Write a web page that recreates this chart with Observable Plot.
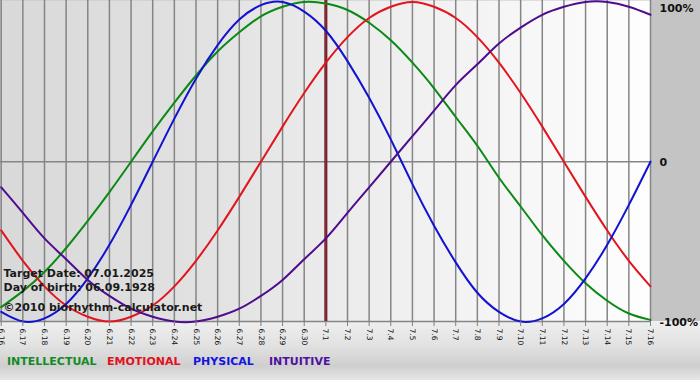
<!DOCTYPE html>
<html>
<head>
<meta charset="utf-8">
<script src="https://cdn.jsdelivr.net/npm/d3@7"></script>
<script src="https://cdn.jsdelivr.net/npm/@observablehq/plot@0.6"></script>
<style>
  html, body { margin: 0; padding: 0; }
  #wrap {
    position: relative; width: 700px; height: 380px; overflow: hidden;
    background:
      linear-gradient(#c4c4c4, #c4c4c4) top left / 700px 321px no-repeat,
      linear-gradient(to bottom, #efefef 0px, #efefef 321px, #e2e2e2 345px, #cfcfcf 366px, #e6e6e6 380px);
    font-family: "DejaVu Sans", Verdana, sans-serif;
  }
  #legend { position: absolute; top: 356px; left: 0; width: 700px; height: 14px; line-height: 12px; font-size: 11px; font-weight: bold; }
  #legend span { position: absolute; top: 0; white-space: nowrap; }
</style>
</head>
<body>
<div id="wrap"><div id="chart"></div><div id="legend"></div></div>
<script>
const dayLabels = ["6.16","6.17","6.18","6.19","6.20","6.21","6.22","6.23","6.24","6.25","6.26","6.27","6.28","6.29","6.30",
  "7.1","7.2","7.3","7.4","7.5","7.6","7.7","7.8","7.9","7.10","7.11","7.12","7.13","7.14","7.15","7.16"];
const intellectual = [-0.91,-0.81,-0.69,-0.54,-0.37,-0.19,0.00,0.19,0.37,0.54,0.69,0.81,0.91,0.97,1.00,0.99,0.95,0.87,0.76,0.62,0.46,0.28,0.10,-0.10,-0.28,-0.46,-0.62,-0.76,-0.87,-0.95,-0.99];
const emotional = [-0.43,-0.62,-0.78,-0.90,-0.97,-1.00,-0.97,-0.90,-0.78,-0.62,-0.43,-0.22,0.00,0.22,0.43,0.62,0.78,0.90,0.97,1.00,0.97,0.90,0.78,0.62,0.43,0.22,0.00,-0.22,-0.43,-0.62,-0.78];
const physical = [-0.94,-1.00,-0.98,-0.89,-0.73,-0.52,-0.27,0.00,0.27,0.52,0.73,0.89,0.98,1.00,0.94,0.82,0.63,0.40,0.14,-0.14,-0.40,-0.63,-0.82,-0.94,-1.00,-0.98,-0.89,-0.73,-0.52,-0.27,0.00];
const intuitive = [-0.16,-0.32,-0.48,-0.61,-0.74,-0.84,-0.92,-0.97,-1.00,-1.00,-0.97,-0.92,-0.84,-0.74,-0.61,-0.48,-0.32,-0.16,0.00,0.16,0.32,0.48,0.61,0.74,0.84,0.92,0.97,1.00,1.00,0.97,0.92];
const seriesNames = ["INTELLECTUAL","EMOTIONAL","PHYSICAL","INTUITIVE"];
const seriesColors = ["#0a8a14","#e2141e","#1212d2","#4e0c8e"];
const legendColors = ["#138a26","#e2101e","#1414e0","#5010a0"];
const targetDay = "7.1";
const infoLines = ["Target Date: 07.01.2025", "Day of birth: 06.09.1928", "©2010 biorhythm-calculator.net"];
const yTickLabels = ["100%", "0", "-100%"];

const seriesValues = [intellectual, emotional, physical, intuitive];
const rows = seriesNames.flatMap((s, k) => seriesValues[k].map((v, i) => ({i, v, s})));
const dayIdx = dayLabels.map((_, i) => i);

const font = "DejaVu Sans, Verdana, sans-serif";
const infoBase = [276, 290, 310];

const plot = Plot.plot({
  width: 700,
  height: 350,
  marginLeft: 0,
  marginRight: 50,
  marginTop: 0,
  marginBottom: 29,
  style: {background: "transparent", fontFamily: font, color: "#111", overflow: "visible"},
  x: {type: "linear", domain: [0, dayLabels.length - 1], range: [0.7, 650]},
  y: {domain: [-1, 1], range: [321, 1.5]},
  color: {domain: seriesNames, range: seriesColors},
  marks: [
    Plot.frame({fill: "url(#plotbg)", stroke: null}),
    Plot.ruleX(dayIdx, {stroke: "#858585", strokeWidth: 1.5}),
    Plot.ruleY([0, -1], {stroke: "#858585", strokeWidth: 1.5}),
    Plot.ruleX([dayLabels.indexOf(targetDay)], {stroke: "#5a1820", strokeWidth: 3}),
    Plot.ruleX([dayLabels.indexOf(targetDay)], {stroke: "#b03040", strokeWidth: 1}),
    Plot.line(rows, {x: "i", y: "v", z: "s", stroke: "s", strokeWidth: 2, curve: "natural"}),
    Plot.axisX({ticks: dayIdx, tickFormat: i => dayLabels[i], tickRotate: 90, tickSize: 5, tickPadding: 2,
      fontSize: 7.5, stroke: "#808080", fill: "#111", label: null}),
    Plot.axisY({anchor: "right", ticks: [0, -1], tickFormat: d => d === 0 ? yTickLabels[1] : yTickLabels[2],
      tickSize: 0, tickPadding: 9, fontSize: 11, fontWeight: "bold", fill: "#111", dy: 1, label: null}),
    Plot.axisY({anchor: "right", ticks: [1], tickFormat: () => yTickLabels[0],
      tickSize: 0, tickPadding: 9, fontSize: 11, fontWeight: "bold", fill: "#111", dy: 6, label: null}),
    ...infoLines.map((t, k) => Plot.text([t], {frameAnchor: "top-left", textAnchor: "start", lineAnchor: "bottom",
      dx: 3, dy: infoBase[k], fontSize: 11, fontWeight: "bold", fill: "#1a1a1a", text: d => d}))
  ]
});

plot.insertAdjacentHTML("afterbegin",
  '<defs><linearGradient id="plotbg" x1="0" x2="1" y1="0" y2="0">' +
  '<stop offset="0" stop-color="#d9d9d9"/><stop offset="0.3" stop-color="#e1e1e1"/>' +
  '<stop offset="0.5" stop-color="#ebebeb"/><stop offset="1" stop-color="#fefefe"/></linearGradient></defs>');
document.getElementById("chart").appendChild(plot);

const legendLeft = [7, 107, 193, 269];
const legend = document.getElementById("legend");
seriesNames.forEach((n, k) => {
  const s = document.createElement("span");
  s.textContent = n;
  s.style.left = legendLeft[k] + "px";
  s.style.color = legendColors[k];
  legend.appendChild(s);
});
</script>
</body>
</html>
